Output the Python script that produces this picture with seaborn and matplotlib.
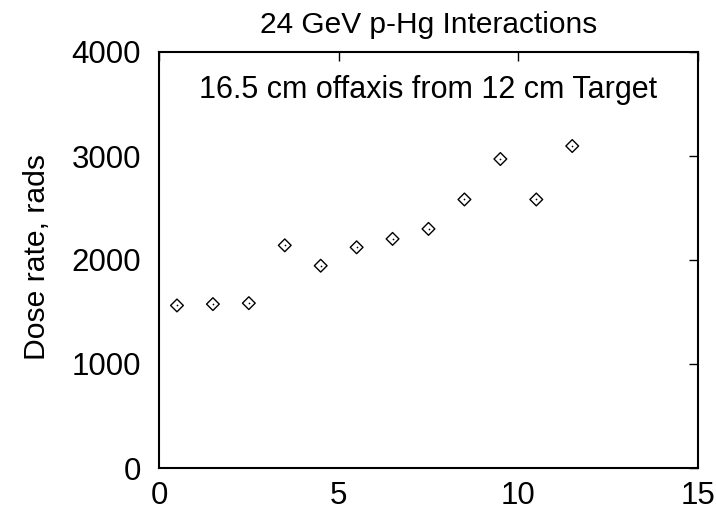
import matplotlib
matplotlib.use("Agg")
import matplotlib.pyplot as plt
import seaborn as sns
import pandas as pd

x_pos = [0.5, 1.5, 2.5, 3.5, 4.5, 5.5, 6.5, 7.5, 8.5, 9.5, 10.5, 11.5]
dose = [1563, 1576, 1585, 2141, 1945, 2122, 2203, 2299, 2582, 2971, 2582, 3096]
x_ticks = [0, 5, 10, 15]
y_ticks = [0, 1000, 2000, 3000, 4000]

sns.set_theme(style="white")
plt.rcParams['font.family'] = ['Liberation Sans', 'DejaVu Sans']

df = pd.DataFrame({"x": x_pos, "dose": dose})

W, H = 716, 513
L, R, T, B = 159, 698, 52, 468
fig = plt.figure(figsize=(W / 100, H / 100), dpi=100)
ax = fig.add_axes([L / W, 1 - B / H, (R - L) / W, (B - T) / H])

sns.scatterplot(data=df, x="x", y="dose", ax=ax, marker="D", s=42,
                facecolor="none", edgecolor="black", linewidth=1.0, legend=False)
sns.scatterplot(data=df, x="x", y="dose", ax=ax, marker="o", s=1.5,
                color="black", linewidth=0, legend=False)

ax.set_xlim(0, 15)
ax.set_ylim(0, 4000)
ax.set_xticks(x_ticks)
ax.set_yticks(y_ticks)
ax.tick_params(direction="in", length=6.5, width=1, top=True, right=True,
               labelsize=22.5, colors="black")
ax.tick_params(axis="y", pad=13)
ax.tick_params(axis="x", pad=9.5)
for sp in ax.spines.values():
    sp.set_color("black")
    sp.set_linewidth(1.5)
ax.set_xlabel("")
ax.set_ylabel("Dose rate, rads", fontsize=21.7, color="black")
ax.yaxis.set_label_coords(51 / W, 0.5, transform=fig.transFigure)
ax.set_title("24 GeV p-Hg Interactions", fontsize=21.5, color="black", pad=14)
ax.text(0.5, 0.8904, "16.5 cm offaxis from 12 cm Target", transform=ax.transAxes,
        ha="center", va="baseline", fontsize=22, color="black")

fig.savefig("out.png", dpi=100)
